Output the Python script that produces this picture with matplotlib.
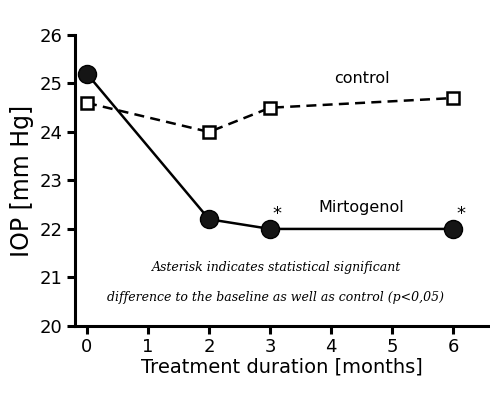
import matplotlib.pyplot as plt

# data
months = [0, 2, 3, 6]
mirtogenol = [25.2, 22.2, 22.0, 22.0]
control = [24.6, 24.0, 24.5, 24.7]
xticks = [0, 1, 2, 3, 4, 5, 6]
yticks = [20, 21, 22, 23, 24, 25, 26]
signif_months = [3, 6]

plt.rcParams['font.family'] = ['DejaVu Sans']

fig = plt.figure(figsize=(4.9, 4.12), dpi=100)
ax = fig.add_axes([0.153, 0.209, 0.843, 0.706])

ax.plot(months, control, '--', color='black', lw=1.8, dashes=(4, 2.5),
        marker='s', ms=9, mfc='white', mec='black', mew=1.8, zorder=3)
ax.plot(months, mirtogenol, '-', color='black', lw=1.8,
        marker='o', ms=13, mfc='#151515', mec='black', zorder=4)

ax.set_xlim(-0.197, 6.57)
ax.set_ylim(20, 26)
ax.set_xticks(xticks)
ax.set_yticks(yticks)

for s in ['top', 'right']:
    ax.spines[s].set_visible(False)
for s in ['left', 'bottom']:
    ax.spines[s].set_linewidth(2.2)
ax.tick_params(direction='out', length=6, width=2.2, labelsize=13, pad=3)

ax.set_xlabel('Treatment duration [months]', fontsize=14, labelpad=1)
ax.set_ylabel('IOP [mm Hg]', fontsize=17, labelpad=4)

ax.text(4.5, 25.1, 'control', fontsize=11.5, ha='center', va='center')
ax.text(4.5, 22.45, 'Mirtogenol', fontsize=11.5, ha='center', va='center')
for m in signif_months:
    idx = months.index(m)
    ax.text(m + 0.12, mirtogenol[idx] + 0.3, '*', fontsize=13,
            ha='center', va='center')

ax.text(3.1, 21.2, 'Asterisk indicates statistical significant',
        fontsize=9, style='italic', family='DejaVu Serif',
        ha='center', va='center')
ax.text(3.08, 20.58, 'difference to the baseline as well as control (p<0,05)',
        fontsize=9, style='italic', family='DejaVu Serif',
        ha='center', va='center')

fig.savefig('out.png', dpi=100)
